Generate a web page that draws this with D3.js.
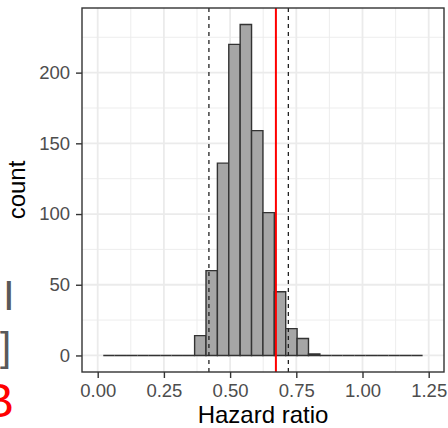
<!DOCTYPE html>
<html>
<head>
<meta charset="utf-8">
<script src="https://cdn.jsdelivr.net/npm/d3@7"></script>
<style>
  body { margin: 0; background: #fff; }
  svg { display: block; font-family: "Liberation Sans", Arial, sans-serif; }
</style>
</head>
<body>
<div id="chart"></div>
<script>
const W = 448, H = 428;
const MARGIN = { LEFT: 82, RIGHT: 4, TOP: 8, BOTTOM: 56 };
const WIDTH = W - MARGIN.LEFT - MARGIN.RIGHT;
const HEIGHT = H - MARGIN.TOP - MARGIN.BOTTOM;

// histogram bins (lower / upper edges) and counts
const binLo = [0.021, 0.064, 0.107, 0.150, 0.193, 0.236, 0.279, 0.322, 0.366, 0.409,
               0.452, 0.495, 0.538, 0.581, 0.624, 0.667, 0.710, 0.753, 0.796, 0.839,
               0.882, 0.925, 0.969, 1.012, 1.055, 1.098, 1.141, 1.184];
const binHi = [0.064, 0.107, 0.150, 0.193, 0.236, 0.279, 0.322, 0.366, 0.409, 0.452,
               0.495, 0.538, 0.581, 0.624, 0.667, 0.710, 0.753, 0.796, 0.839, 0.882,
               0.925, 0.969, 1.012, 1.055, 1.098, 1.141, 1.184, 1.227];
const counts = [0, 0, 0, 0, 0, 0, 0, 0, 14, 60,
                136, 220, 234, 159, 101, 45, 19, 12, 1, 0,
                0, 0, 0, 0, 0, 0, 0, 0];
const ciLines = [0.42, 0.72];   // dashed
const estimate = 0.673;         // red line
const xTicks = [0, 0.25, 0.5, 0.75, 1.0, 1.25];
const xMinor = [0.125, 0.375, 0.625, 0.875, 1.125];
const yTicks = [0, 50, 100, 150, 200];
const yMinor = [25, 75, 125, 175, 225];

const svg = d3.select("#chart").append("svg")
  .attr("width", W).attr("height", H);

// fragments of neighbouring slide text at the left edge
svg.append("text").attr("x", 3).attr("y", 310)
  .attr("font-size", 42).attr("fill", "#595959").text("I");
svg.append("text").attr("x", 11).attr("y", 361).attr("text-anchor", "end")
  .attr("font-size", 40).attr("fill", "#595959").text("]");
svg.append("text").attr("x", 14).attr("y", 417).attr("text-anchor", "end")
  .attr("font-size", 48).attr("fill", "#ff0000").text("B");

const g = svg.append("g")
  .attr("transform", `translate(${MARGIN.LEFT}, ${MARGIN.TOP})`);

const x = d3.scaleLinear().domain([-0.0593, 1.3078]).range([0, WIDTH]);
const y = d3.scaleLinear().domain([-11.7, 245.7]).range([HEIGHT, 0]);

g.append("rect").attr("width", WIDTH).attr("height", HEIGHT).attr("fill", "#fff");

// grid
g.selectAll(".xmin").data(xMinor).enter().append("line")
  .attr("x1", d => x(d)).attr("x2", d => x(d)).attr("y1", 0).attr("y2", HEIGHT)
  .attr("stroke", "#ebebeb").attr("stroke-width", 0.9);
g.selectAll(".ymin").data(yMinor).enter().append("line")
  .attr("y1", d => y(d)).attr("y2", d => y(d)).attr("x1", 0).attr("x2", WIDTH)
  .attr("stroke", "#ebebeb").attr("stroke-width", 0.9);
g.selectAll(".xmaj").data(xTicks).enter().append("line")
  .attr("x1", d => x(d)).attr("x2", d => x(d)).attr("y1", 0).attr("y2", HEIGHT)
  .attr("stroke", "#ebebeb").attr("stroke-width", 1.8);
g.selectAll(".ymaj").data(yTicks).enter().append("line")
  .attr("y1", d => y(d)).attr("y2", d => y(d)).attr("x1", 0).attr("x2", WIDTH)
  .attr("stroke", "#ebebeb").attr("stroke-width", 1.8);

// bars (paths so that empty bins still draw their flat outline)
g.selectAll(".bar").data(counts).enter().append("path")
  .attr("d", (d, i) => {
    const x0 = x(binLo[i]), x1 = x(binHi[i]), y0 = y(0), y1 = y(d);
    return `M${x0},${y0}V${y1}H${x1}V${y0}Z`;
  })
  .attr("fill", "#a6a6a6")
  .attr("stroke", "#333")
  .attr("stroke-width", 1.4);

// dashed interval lines
g.selectAll(".ci").data(ciLines).enter().append("line")
  .attr("x1", d => x(d)).attr("x2", d => x(d)).attr("y1", 0).attr("y2", HEIGHT)
  .attr("stroke", "#222").attr("stroke-width", 1.3)
  .attr("stroke-dasharray", "4,4");

g.append("line")
  .attr("x1", x(estimate)).attr("x2", x(estimate)).attr("y1", 0).attr("y2", HEIGHT)
  .attr("stroke", "#ff0000").attr("stroke-width", 2);

// panel border
g.append("rect").attr("width", WIDTH).attr("height", HEIGHT)
  .attr("fill", "none").attr("stroke", "#333").attr("stroke-width", 1.4);

// axes
const xAxis = g.append("g").attr("transform", `translate(0, ${HEIGHT})`)
  .call(d3.axisBottom(x).tickValues(xTicks).tickFormat(d3.format(".2f"))
    .tickSize(6).tickPadding(6));
const yAxis = g.append("g")
  .call(d3.axisLeft(y).tickValues(yTicks).tickSize(6).tickPadding(6));
[xAxis, yAxis].forEach(a => {
  a.select(".domain").remove();
  a.selectAll(".tick line").attr("stroke", "#333").attr("stroke-width", 1.4);
  a.selectAll(".tick text").attr("fill", "#4d4d4d")
    .attr("font-size", 18.5).attr("font-family", "Liberation Sans, Arial, sans-serif");
});

svg.append("text")
  .attr("x", MARGIN.LEFT + WIDTH / 2).attr("y", 423)
  .attr("text-anchor", "middle").attr("font-size", 24).attr("fill", "#000")
  .text("Hazard ratio");
svg.append("text")
  .attr("transform", `translate(25, ${MARGIN.TOP + HEIGHT / 2}) rotate(-90)`)
  .attr("text-anchor", "middle").attr("font-size", 24).attr("fill", "#000")
  .text("count");
</script>
</body>
</html>
